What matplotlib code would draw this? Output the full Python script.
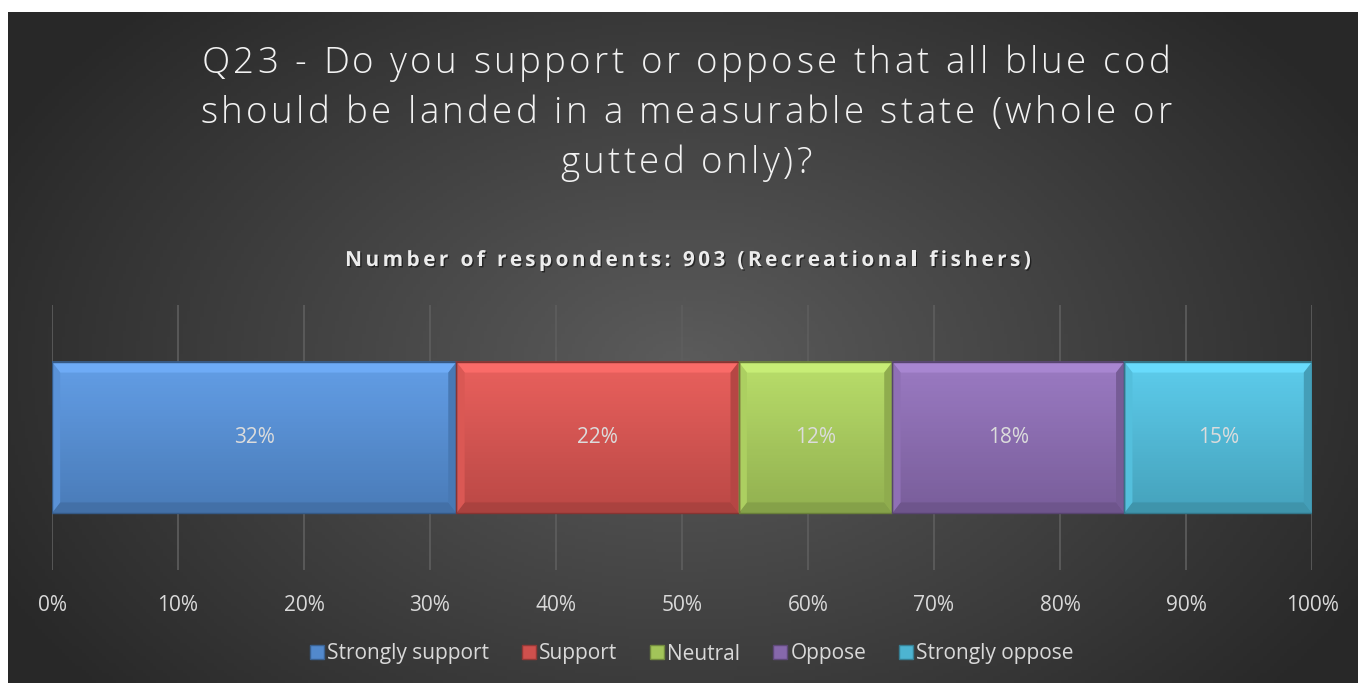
import numpy as np
import matplotlib
matplotlib.use("Agg")
import matplotlib.pyplot as plt
from matplotlib.colors import to_rgb
from matplotlib.lines import Line2D
from matplotlib.patches import Polygon
from matplotlib.font_manager import FontProperties
import matplotlib.patheffects as pe

categories = ["Strongly support", "Support", "Neutral", "Oppose", "Strongly oppose"]
values = [32.1, 22.4, 12.2, 18.4, 14.9]
labels = ["32%", "22%", "12%", "18%", "15%"]
colors = ["#5289cc", "#cf504d", "#a2c459", "#8668ab", "#4db4d1"]
tick_values = list(range(0, 101, 10))
tick_labels = [f"{v}%" for v in tick_values]

title_lines = ["Q23 - Do you support or oppose that all blue cod",
               "should be landed in a measurable state (whole or",
               "gutted only)?"]
subtitle = "Number of respondents: 903 (Recreational fishers)"

W, H = 1358, 683
fig = plt.figure(figsize=(W / 100, H / 100), dpi=100)
fig.patch.set_facecolor("white")
renderer = fig.canvas.get_renderer()


def tracked_text(s, cx_px, cy_px, prop, tracking_px, color, effects=None):
    """Draw string centred at (cx_px, cy_px) in pixels with extra letter spacing."""
    full_w, _, _ = renderer.get_text_width_height_descent(s, prop, ismath=False)
    total = full_w + tracking_px * (len(s) - 1)
    x0 = cx_px - total / 2
    for i, ch in enumerate(s):
        if ch == " ":
            continue
        pre_w = renderer.get_text_width_height_descent(s[:i], prop, ismath=False)[0] if i else 0
        t = fig.text((x0 + pre_w + i * tracking_px) / W, 1 - cy_px / H, ch,
                     ha="left", va="baseline", color=color, fontproperties=prop)
        if effects:
            t.set_path_effects(effects)


# background panel with radial gradient
bg = fig.add_axes([8 / W, 0, 1 - 8 / W, 1 - 12 / H])
bg.set_axis_off()
yy, xx = np.mgrid[0:200, 0:400]
cx, cy = 200, 105
r = np.sqrt(((xx - cx) / 225.0) ** 2 + ((yy - cy) / 150.0) ** 2)
r = np.clip(r, 0, 1)
inner = np.array([0.36, 0.36, 0.36])
outer = np.array([0.16, 0.16, 0.16])
img = inner[None, None, :] * (1 - r[..., None]) + outer[None, None, :] * r[..., None]
bg.imshow(img, aspect="auto", extent=[0, 1, 0, 1], origin="upper")
bg.set_xlim(0, 1)
bg.set_ylim(0, 1)

ax = fig.add_axes([52 / W, 1 - 570 / H, (1312 - 52) / W, (570 - 305) / H])
ax.set_facecolor("none")
ax.set_xlim(0, 100)
ax.set_ylim(-0.5, 0.5)
ax.set_xticks(tick_values)
ax.set_xticklabels(tick_labels, color="#d9d9d9", fontsize=15, family="Open Sans")
ax.tick_params(axis="x", length=0, pad=18)
ax.set_yticks([])
for s in ax.spines.values():
    s.set_visible(False)
ax.grid(axis="x", color="#5e5e5e", linewidth=1.2)
ax.set_axisbelow(True)

bar_h = 0.57
bev_x = 0.65   # bevel width in data units (x)
bev_y = 0.04   # bevel width in data units (y)
left = 0
for v, lab, c in zip(values, labels, colors):
    base = np.array(to_rgb(c))
    bars = ax.barh(0, v, left=left, height=bar_h, color=c,
                   edgecolor=tuple(base * 0.7), linewidth=1.2, zorder=3)
    patch = bars[0]
    t = np.linspace(0, 1, 50)[:, None]
    top_col = np.clip(base * 1.08 + 0.04, 0, 1)
    bot_col = base * 0.9
    grad = top_col[None, :] * (1 - t[..., None]) + bot_col[None, :] * t[..., None]
    grad = np.repeat(grad, 2, axis=1)
    im = ax.imshow(grad, extent=[left, left + v, -bar_h / 2, bar_h / 2], aspect="auto",
                   zorder=3.5, origin="upper")
    im.set_clip_path(patch)
    # bevel edges
    x0, x1, y0, y1 = left, left + v, -bar_h / 2, bar_h / 2
    top = Polygon([[x0, y1], [x1, y1], [x1 - bev_x, y1 - bev_y], [x0 + bev_x, y1 - bev_y]],
                  closed=True, facecolor=np.clip(base * 1.12 + 0.07, 0, 1), edgecolor="none", zorder=3.7)
    bot = Polygon([[x0, y0], [x1, y0], [x1 - bev_x, y0 + bev_y], [x0 + bev_x, y0 + bev_y]],
                  closed=True, facecolor=base * 0.82, edgecolor="none", zorder=3.7)
    lft = Polygon([[x0, y0], [x0, y1], [x0 + bev_x, y1 - bev_y], [x0 + bev_x, y0 + bev_y]],
                  closed=True, facecolor=np.clip(base * 1.03 + 0.02, 0, 1), edgecolor="none", zorder=3.7)
    rgt = Polygon([[x1, y0], [x1, y1], [x1 - bev_x, y1 - bev_y], [x1 - bev_x, y0 + bev_y]],
                  closed=True, facecolor=base * 0.88, edgecolor="none", zorder=3.7)
    for p in (top, bot, lft, rgt):
        ax.add_patch(p)
    ax.add_patch(Polygon([[x0, y0], [x1, y0], [x1, y1], [x0, y1]], closed=True,
                         facecolor="none", edgecolor=tuple(base * 0.65), linewidth=1.0, zorder=3.8))
    ax.text(left + v / 2, 0, lab, ha="center", va="center", color="#dcdcdc",
            fontsize=15, family="Open Sans", zorder=5)
    left += v
ax.set_xlim(0, 100)
ax.set_ylim(-0.5, 0.5)

title_prop = FontProperties(family="Open Sans", size=26.5, weight="light")
for i, line in enumerate(title_lines):
    tracked_text(line, 686, 73 + 50 * i, title_prop, 3.4, "#f2f2f2")

sub_prop = FontProperties(family="Open Sans", size=15, weight="bold")
tracked_text(subtitle, 688, 266, sub_prop, 3.4, "#ececec",
             effects=[pe.withSimplePatchShadow(offset=(1, -1), shadow_rgbFace="black", alpha=0.5)])

handles = [Line2D([0], [0], marker="s", linestyle="none", markersize=10,
                  markerfacecolor=c, markeredgecolor=tuple(np.array(to_rgb(c)) * 0.7))
           for c in colors]
leg = fig.legend(handles, categories, loc="center", bbox_to_anchor=(0.5 + 12 / W, 1 - 654 / H),
                 ncol=5, frameon=False, handlelength=0.8, handletextpad=0.1,
                 columnspacing=1.5, prop={"family": "Open Sans", "size": 15})
for txt in leg.get_texts():
    txt.set_color("#d9d9d9")

fig.savefig("out.png", dpi=100, facecolor=fig.get_facecolor())
